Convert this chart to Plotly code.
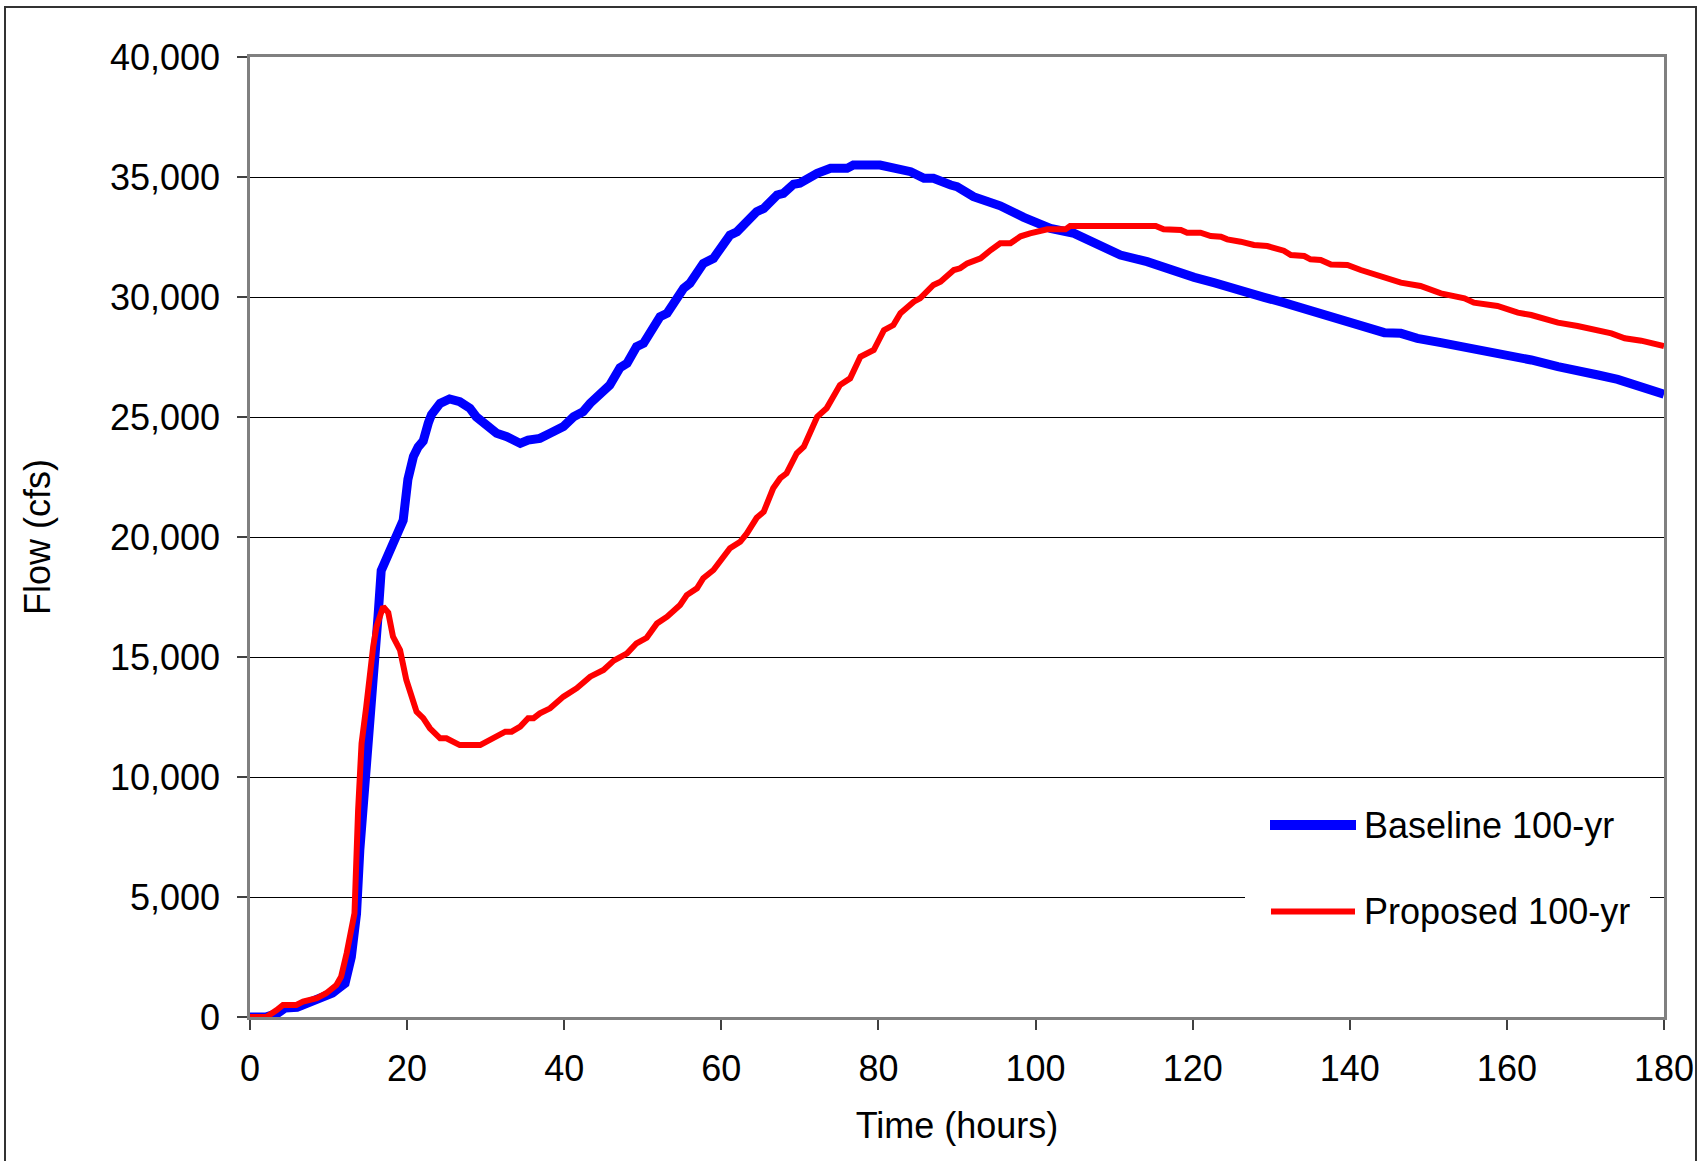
import plotly.graph_objects as go

# ---- data ----
time_baseline = [0, 2, 3.5, 4.5, 6, 7.5, 9, 10.5, 11.5, 12.1, 12.9, 13.56, 13.98, 14.6, 15.0,
                 15.5, 15.9, 16.3, 16.7, 17.8, 18.65, 19.5, 20.1, 20.8, 21.4, 22.05, 22.7, 23.1,
                 24.2, 25.4, 26.7, 28.0, 28.8, 29.7, 31.4, 32.7, 34.4, 35.4, 36.9, 38.2, 39.9,
                 41.2, 42.4, 43.3, 44.6, 45.8, 47.1, 48.0, 49.2, 50.1, 52.2, 53.1, 55.2, 56.0,
                 57.7, 59.0, 61.1, 62.0, 64.5, 65.4, 67.1, 67.9, 69.2, 70.0, 72.2, 73.9, 76.0,
                 76.8, 80.2, 81.1, 82.8, 84.1, 85.8, 87.0, 89.2, 90.0, 92.1, 94.7, 95.5, 98.5,
                 101.9, 104.9, 107.9, 110.8, 114.2, 117.2, 120.2, 122.7, 125.3, 129.1, 131.6,
                 134.2, 137.4, 140.1, 142.7, 144.4, 146.5, 148.6, 151.6, 154.6, 157.1, 160.1,
                 163.1, 166.5, 169.0, 171.6, 174.1, 177.1, 180]
flow_baseline = [0, 0, 150, 380, 400, 620, 760, 1000, 1250, 1400, 2500, 4300, 6950, 9450, 10850,
                 12500, 14900, 16700, 18600, 19450, 20150, 20700, 22400, 23350, 23750, 24000, 24750, 25100,
                 25570, 25750, 25640, 25360, 25010, 24740, 24320, 24180, 23900, 24040, 24110, 24320, 24600,
                 25010, 25220, 25570, 25950, 26330, 27050, 27240, 27930, 28070, 29180, 29320, 30360, 30570,
                 31400, 31610, 32580, 32720, 33555, 33690, 34250, 34320, 34700, 34740, 35150, 35360, 35360,
                 35500, 35500, 35430, 35360, 35220, 34945, 34945, 34667, 34597, 34180, 33900, 33800, 33320,
                 32860, 32650, 32236, 31750, 31472, 31097, 30819, 30597, 30319, 29986, 29764,
                 29528, 29180, 28972, 28764, 28514, 28486, 28278, 28097, 27930, 27722, 27541,
                 27375, 27097, 26958, 26750, 26569, 26263, 25950]

time_proposed = [0, 2.1, 3.4, 4.2, 5.9, 6.75, 8.5, 9.7, 11.0, 11.6, 12.3, 12.9, 13.3, 13.76, 14.2,
                 14.8, 15.25, 15.68, 16.1, 16.5, 16.95, 17.6, 18.2, 19.1, 19.9, 21.2, 22.05, 22.9,
                 24.2, 25.0, 26.7, 29.3, 30.5, 32.5, 33.3, 34.4, 35.4, 36.1, 36.9, 38.2, 39.9, 41.6,
                 43.3, 45.0, 46.3, 48.0, 49.2, 50.5, 51.8, 53.1, 54.75, 55.6, 56.9, 57.7, 59.0, 59.8,
                 61.1, 62.4, 63.25, 64.5, 65.4, 66.6, 67.5, 68.3, 69.6, 70.5, 72.2, 73.4, 75.1, 76.4,
                 77.7, 79.4, 80.7, 81.9, 82.8, 84.5, 85.3, 87.0, 87.9, 89.6, 90.4, 91.3, 93.0, 94.3,
                 95.5, 96.8, 98.1, 99.3, 100.6, 101.5, 103.8, 104.4, 115.3, 116.3, 118.5, 119.3,
                 121.0, 122.3, 123.6, 124.4, 126.1, 127.8, 129.5, 130.8, 131.6, 132.5, 134.2, 135.0,
                 136.3, 137.6, 139.7, 141.4, 143.9, 146.5, 149.0, 151.6, 154.6, 155.8, 158.8, 161.4,
                 163.1, 166.5, 169.0, 171.6, 173.3, 175.0, 177.1, 180]
flow_proposed = [0, 0, 290, 500, 500, 640, 780, 990, 1330, 1680, 2650, 3620, 4320, 8600, 11400,
                 12930, 14550, 15430, 16260, 16700, 17100, 16850, 15850, 15290, 14040, 12720, 12450, 12030,
                 11610, 11610, 11330, 11330, 11540, 11890, 11890, 12100, 12450, 12450, 12650, 12860, 13350, 13700,
                 14180, 14460, 14850, 15150, 15570, 15800, 16400, 16680, 17170, 17580, 17860, 18280, 18625, 18970,
                 19530, 19800, 20150, 20800, 21055, 22030, 22450, 22650, 23490, 23760, 25010, 25360, 26330, 26610,
                 27510, 27790, 28620, 28830, 29320, 29805, 29945, 30500, 30640, 31125, 31195, 31400, 31612, 31958,
                 32240, 32240, 32530, 32653, 32764, 32819, 32819, 32958, 32958, 32819, 32792, 32680,
                 32680, 32542, 32514, 32403, 32305, 32167, 32125, 31986, 31930, 31750, 31708, 31570,
                 31542, 31350, 31333, 31125, 30875, 30597, 30458, 30153, 29945, 29764, 29625, 29347,
                 29250, 28930, 28792, 28625, 28486, 28278, 28180, 27950]

series_names = ["Baseline 100-yr", "Proposed 100-yr"]
x_ticks = list(range(0, 181, 20))
y_ticks = list(range(0, 40001, 5000))

# ---- layout geometry (pixels) ----
W, H = 1703, 1161
L, R, T, B = 250, 1664, 57, 1017
PW, PH = R - L, B - T


def px(x):
    return (x - L) / PW


def py(y):
    return (B - y) / PH


FONT = "Liberation Sans, Arial, sans-serif"

fig = go.Figure()
fig.add_trace(go.Scatter(x=time_baseline, y=flow_baseline, mode="lines", name=series_names[0],
                         line=dict(color="#0000FF", width=9), showlegend=False, cliponaxis=False))
fig.add_trace(go.Scatter(x=time_proposed, y=flow_proposed, mode="lines", name=series_names[1],
                         line=dict(color="#FF0000", width=6), showlegend=False, cliponaxis=False))

shapes = []
# outer chart border (bottom edge is outside the picture)
shapes.append(dict(type="rect", xref="paper", yref="paper", x0=px(5), x1=px(1696), y0=py(1175), y1=py(7),
                   line=dict(color="#333333", width=2), fillcolor="rgba(0,0,0,0)", layer="above"))
# legend box
shapes.append(dict(type="rect", xref="paper", yref="paper", x0=px(1245), x1=px(1650), y0=py(990), y1=py(790),
                   line=dict(width=0), fillcolor="white", layer="above"))
shapes.append(dict(type="line", xref="paper", yref="paper", x0=px(1270), x1=px(1356), y0=py(825), y1=py(825),
                   line=dict(color="#0000FF", width=10), layer="above"))
shapes.append(dict(type="line", xref="paper", yref="paper", x0=px(1271), x1=px(1355), y0=py(911.5), y1=py(911.5),
                   line=dict(color="#FF0000", width=6), layer="above"))

annotations = [
    dict(text=series_names[0], xref="paper", yref="paper", x=px(1362), y=py(825), xanchor="left",
         yanchor="middle", showarrow=False, font=dict(family=FONT, size=36, color="black")),
    dict(text=series_names[1], xref="paper", yref="paper", x=px(1362), y=py(911.5), xanchor="left",
         yanchor="middle", showarrow=False, font=dict(family=FONT, size=36, color="black")),
]

fig.update_layout(
    width=W, height=H,
    margin=dict(l=L, r=W - R, t=T, b=H - B, pad=0),
    paper_bgcolor="white", plot_bgcolor="white",
    font=dict(family=FONT, size=36, color="black"),
    shapes=shapes, annotations=annotations, showlegend=False,
)
fig.update_xaxes(
    range=[0, 180], tickvals=x_ticks, ticktext=[str(v) for v in x_ticks],
    showgrid=False, zeroline=False,
    showline=True, linecolor="#808080", linewidth=2.5, mirror=True,
    ticks="outside", ticklen=10, tickwidth=1.5, tickcolor="#404040",
    ticklabelstandoff=8,
    title=dict(text="Time (hours)", font=dict(family=FONT, size=36), standoff=25),
    automargin=False,
)
fig.update_yaxes(
    range=[0, 40000], tickvals=y_ticks, tickformat=",d",
    showgrid=True, gridcolor="black", gridwidth=1, zeroline=False,
    showline=True, linecolor="#808080", linewidth=2.5, mirror=True,
    ticks="outside", ticklen=10, tickwidth=1.5, tickcolor="#404040",
    ticklabelstandoff=10,
    title=dict(text="Flow (cfs)", font=dict(family=FONT, size=36), standoff=49),
    automargin=False,
)

fig.write_html("out.html")
